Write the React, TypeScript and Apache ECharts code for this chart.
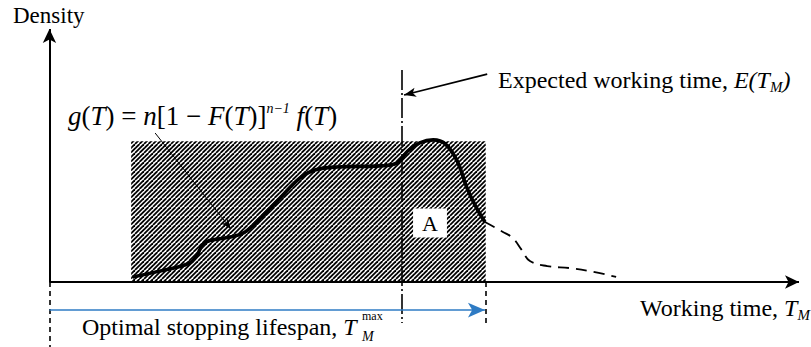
import React, { useEffect, useRef } from "react";
import * as echarts from "echarts";

// Abstract units: working time 0–100 along x, density 0–100 along y
const X_MIN = -6.6;
const X_MAX = 101.6;
const Y_MIN = -25.7;
const Y_MAX = 111.5;

// density curve g(T) (solid part, inside the optimal stopping window)
const densityX = [11.1, 14.7, 18.7, 19.7, 20.5, 21.7, 24.1, 26.1, 28.4, 30.9, 33.4, 35.4, 38.4, 44.1, 46.4, 47.8, 49.4, 51.2, 52.8, 54.4, 55.7, 56.9, 58.1];
const densityY = [2.0, 4.3, 7.5, 10.7, 15.0, 16.6, 17.8, 19.8, 26.1, 33.6, 41.1, 44.3, 45.5, 45.9, 47.1, 51.8, 55.0, 56.2, 54.6, 47.8, 37.2, 29.7, 23.7];
// tail of the density beyond the stopping time (dashed)
const tailX = [58.1, 60.5, 61.8, 63.0, 64.1, 66.4, 69.4, 72.1, 75.6];
const tailY = [23.7, 19.8, 17.4, 12.7, 8.3, 6.3, 5.5, 4.3, 2.0];

// key times / levels
const hatchStart = 10.9;
const stopTime = 58.2; // T_M^max
const hatchTop = 55.7;
const expectedTime = 47.0; // E(T_M)

// axis / annotation extents
const axisEndX = 100;
const axisEndY = 100;
const leftGuideBottom = -25.7;
const stopGuideBottom = -17.8;
const expectedTopY = 83.8;
const expectedBottomY = -16.2;
const lifespanArrowY = -11.1;
const lifespanArrowEnd = 58.1;
const formulaPointer = [[14.1, 58.9], [24.2, 21.0]];
const expectedPointer = [[58.4, 82.2], [47.3, 73.9]];

const FONT = "'Liberation Serif', 'Times New Roman', serif";

export default function App() {
  const ref = useRef<HTMLDivElement>(null);
  useEffect(() => {
    document.body.style.margin = "0";
    const chart = echarts.init(ref.current!, null, { renderer: "svg" });

    // hatch tile
    const P = 9;
    const tile = document.createElement("canvas");
    tile.width = P;
    tile.height = P;
    const ctx = tile.getContext("2d")!;
    ctx.fillStyle = "#fff";
    ctx.fillRect(0, 0, P, P);
    ctx.strokeStyle = "#000";
    ctx.lineWidth = 1.8;
    for (let o = -P; o <= P * 2; o += P / 2) {
      ctx.beginPath();
      ctx.moveTo(o, P);
      ctx.lineTo(o + P, 0);
      ctx.stroke();
    }

    const solid = (w: number, color = "#000") => ({ color, width: w, type: "solid" as const });
    const seg = (from: number[], to: number[], lineStyle: any, arrow?: number[]) => [
      { coord: from, symbol: "none", lineStyle },
      { coord: to, symbol: arrow ? "arrow" : "none", symbolSize: arrow || 0 },
    ];

    const markLines = [
      // axes
      seg([0, 0], [axisEndX, 0], solid(2), [10, 14]),
      seg([0, 0], [0, axisEndY], solid(2), [10, 14]),
      // guides below the axis
      seg([0, 0], [0, leftGuideBottom], { color: "#000", width: 1.6, type: [5, 4] }),
      seg([stopTime, 0], [stopTime, stopGuideBottom], { color: "#000", width: 1.6, type: [5, 4] }),
      // expected working time (dash-dot)
      seg([expectedTime, expectedTopY], [expectedTime, expectedBottomY], { color: "#000", width: 1.6, type: [20, 3, 2, 3] }),
      // optimal stopping lifespan arrow
      seg([0, lifespanArrowY], [lifespanArrowEnd, lifespanArrowY], solid(1.6, "#2e7bc4"), [11, 17]),
      // pointers
      seg(formulaPointer[0], formulaPointer[1], solid(1), [6, 10]),
      seg(expectedPointer[0], expectedPointer[1], solid(1.6), [7, 12]),
    ];

    const sub = (size: number) => ({ fontFamily: FONT, fontSize: size, fontStyle: "italic", lineHeight: 12, verticalAlign: "bottom", fill: "#000" });
    const sup = (size: number) => ({ fontFamily: FONT, fontSize: size, fontStyle: "italic", lineHeight: 12, verticalAlign: "top", fill: "#000" });
    const reg = (size: number, lh: number) => ({ fontFamily: FONT, fontSize: size, lineHeight: lh, verticalAlign: "middle", fill: "#000" });
    const ital = (size: number, lh: number) => ({ ...reg(size, lh), fontStyle: "italic" });

    chart.setOption({
      animation: false,
      textStyle: { fontFamily: FONT },
      grid: { left: 0, right: 0, top: 0, bottom: 0 },
      xAxis: { type: "value", min: X_MIN, max: X_MAX, show: false },
      yAxis: { type: "value", min: Y_MIN, max: Y_MAX, show: false },
      series: [
        {
          type: "line",
          name: "g(T)",
          data: densityX.map((x, i) => [x, densityY[i]]),
          smooth: 0.4,
          symbol: "none",
          lineStyle: { color: "#000", width: 3.6 },
          z: 3,
          markArea: {
            silent: true,
            z: 1,
            itemStyle: {
              color: { image: tile, repeat: "repeat", imageWidth: P, imageHeight: P },
              opacity: 1,
              borderWidth: 0,
            },
            label: { show: false },
            data: [[{ coord: [hatchStart, 0] }, { coord: [stopTime, hatchTop] }]],
          },
        },
        {
          type: "line",
          name: "tail",
          data: tailX.map((x, i) => [x, tailY[i]]),
          smooth: 0.4,
          symbol: "none",
          lineStyle: { color: "#000", width: 1.8, type: [11, 7] },
          z: 3,
          markLine: {
            silent: true,
            animation: false,
            label: { show: false },
            emphasis: { disabled: true },
            symbol: ["none", "none"],
            data: markLines,
          },
        },
      ],
      graphic: [
        { type: "text", x: 13, y: 15, style: { text: "Density", fontFamily: FONT, fontSize: 23, fill: "#000", verticalAlign: "middle" } },
        {
          type: "text", x: 68, y: 116,
          style: {
            text: "{i|g}{r|(}{i|T}{r|) = }{i|n}{r|[1 − }{i|F}{r|(}{i|T}{r|)]}{s|n−1}{r| }{i|f}{r|(}{i|T}{r|)}",
            verticalAlign: "middle",
            rich: { i: ital(27, 30), r: reg(27, 30), s: sup(14) },
          },
        },
        {
          type: "text", x: 498, y: 80,
          style: {
            text: "{r|Expected working time, }{i|E(T}{b|M}{i|)}",
            verticalAlign: "middle",
            rich: { r: reg(24, 28), i: ital(24, 28), b: sub(15) },
          },
        },
        {
          type: "text", x: 640, y: 308,
          style: {
            text: "{r|Working time, }{i|T}{b|M}",
            verticalAlign: "middle",
            rich: { r: reg(24, 28), i: ital(24, 28), b: sub(15) },
          },
        },
        {
          type: "text", x: 82, y: 327,
          style: {
            text: "{r|Optimal stopping lifespan, }{i|T}",
            verticalAlign: "middle",
            rich: { r: reg(24, 28), i: ital(24, 28) },
          },
        },
        { type: "text", x: 362, y: 316, style: { text: "max", fontFamily: FONT, fontSize: 12, fill: "#000", verticalAlign: "middle" } },
        { type: "text", x: 362, y: 336, style: { text: "M", fontFamily: FONT, fontSize: 14, fontStyle: "italic", fill: "#000", verticalAlign: "middle" } },
        {
          type: "text", x: 430, y: 223, z: 10,
          style: {
            text: "A", fontFamily: FONT, fontSize: 22, fill: "#000",
            align: "center", verticalAlign: "middle",
            backgroundColor: "#fff", padding: [4, 9, 3, 9],
          },
        },
      ],
    });
    return () => chart.dispose();
  }, []);
  return <div ref={ref} style={{ width: 811, height: 347 }} />;
}
